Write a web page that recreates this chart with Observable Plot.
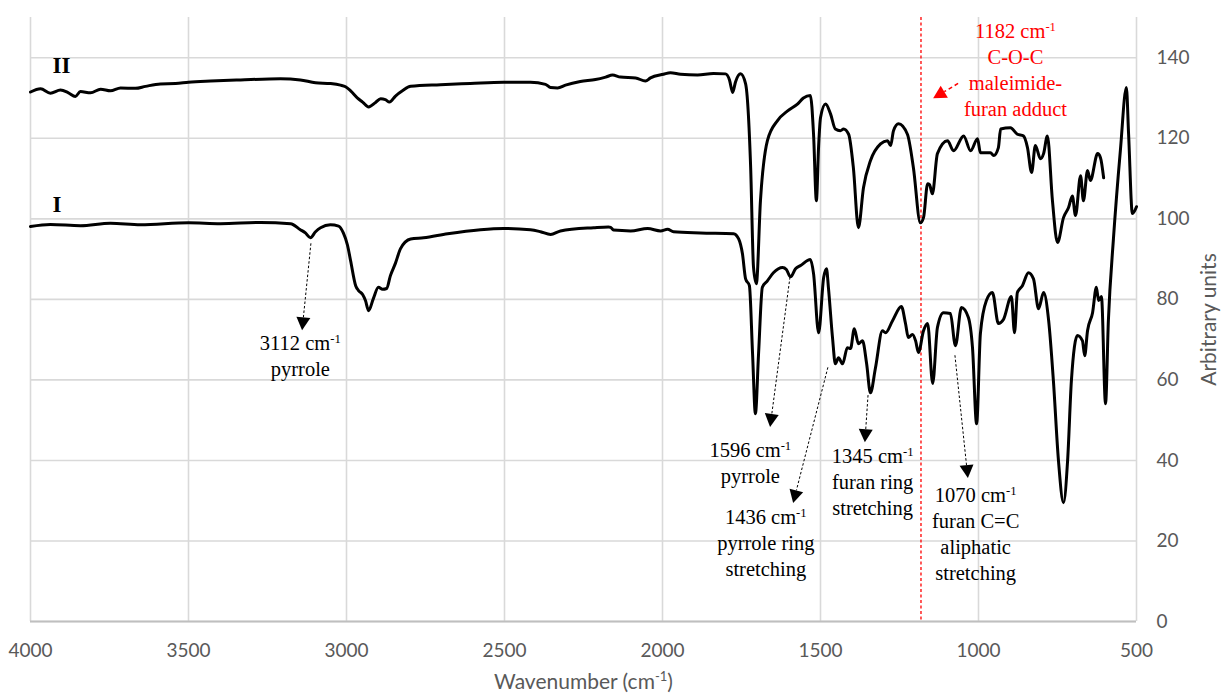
<!DOCTYPE html>
<html>
<head>
<meta charset="utf-8">
<script src="https://cdn.jsdelivr.net/npm/d3@7"></script>
<script src="https://cdn.jsdelivr.net/npm/@observablehq/plot@0.6"></script>
<style>
  html, body { margin: 0; padding: 0; background: #fff; }
  #chart { width: 1222px; height: 695px; }
</style>
</head>
<body>
<div id="chart"></div>
<script>
// ---- Data ----
const xTicks = [4000, 3500, 3000, 2500, 2000, 1500, 1000, 500];
const yTicks = [0, 20, 40, 60, 80, 100, 120, 140];

// Spectrum I (lower trace)
const wnI = [4000,3937,3842,3747,3652,3500,3399,3272,3177,3146,3130,3114,3098,3082,3051,3025,3010,2997,2987,2971,2962,2949,2940,2930,2915,2899,2886,2873,2861,2845,2829,2797,2756,2680,2576,2503,2418,2386,2354,2323,2218,2171,2164,2155,2101,2047,2006,1984,1965,1880,1775,1759,1747,1737,1725,1715,1706,1696,1684,1668,1649,1620,1608,1595,1579,1563,1532,1522,1506,1490,1481,1475,1462,1453,1443,1430,1415,1405,1393,1380,1367,1354,1342,1326,1304,1294,1272,1244,1231,1222,1209,1199,1190,1174,1161,1145,1130,1111,1089,1073,1054,1032,1019,1006,994,975,956,937,921,896,886,877,861,842,826,810,794,778,763,747,731,718,706,687,671,664,655,639,627,620,611,598,589,573,551,532,525,513,500];
const valI = [98.1,98.6,98.3,98.9,98.5,99.0,98.8,99.1,98.8,97.3,96.5,95.3,96.8,97.8,98.5,98.2,96.5,93.5,89.6,83.4,82.2,81.2,79.7,77.2,80.2,83.0,82.5,82.7,85.9,89.0,92.6,95.0,95.3,96.3,97.3,97.6,97.3,96.8,96.1,97.0,97.8,98.0,97.9,97.2,97.0,97.6,97.0,97.4,96.8,96.5,96.3,95.0,91.3,85.1,83.4,66.5,51.6,66.5,83.0,84.6,86.6,87.9,87.4,85.6,87.6,88.4,89.9,86.4,71.7,85.4,87.6,83.0,70.5,64.0,65.5,64.0,68.0,67.8,72.7,69.0,69.7,64.0,56.8,63.0,72.2,71.7,74.7,78.2,74.0,70.5,71.3,69.7,66.8,72.2,74.0,59.1,73.0,76.7,76.5,68.5,78.0,75.5,68.0,49.1,71.5,79.7,81.7,74.0,75.0,80.7,71.7,81.7,83.4,86.6,85.1,77.7,81.7,74.7,59.8,40.0,29.5,40.0,59.8,71.0,69.7,66.0,72.2,76.7,83.0,79.7,80.7,54.1,74.7,95.0,117.0,132.6,121.0,101.3,103.0];

// Spectrum II (upper trace)
const wnII = [4000,3968,3937,3905,3880,3858,3842,3810,3778,3747,3715,3668,3636,3589,3541,3500,3430,3335,3209,3146,3098,3051,3019,3003,2987,2965,2949,2930,2908,2892,2877,2864,2845,2823,2797,2703,2608,2503,2418,2370,2354,2332,2307,2260,2212,2180,2158,2133,2085,2054,2038,1997,1975,1943,1889,1839,1801,1788,1778,1769,1753,1737,1721,1712,1703,1690,1668,1636,1604,1573,1554,1532,1522,1513,1506,1500,1484,1468,1453,1437,1427,1411,1396,1380,1364,1342,1310,1288,1278,1269,1253,1225,1206,1184,1174,1161,1155,1146,1130,1098,1079,1047,1025,1003,994,962,952,937,930,899,877,858,845,832,820,804,794,782,766,750,731,715,703,693,677,668,655,646,623,614,604];
const valII = [131.5,132.3,131.2,132.0,131.3,130.4,131.6,131.3,132.2,131.8,132.5,132.4,132.9,133.5,133.6,133.9,134.2,134.5,134.8,134.5,133.8,133.6,133.2,132.8,131.8,130.0,129.0,127.8,128.9,129.8,129.6,129.0,130.5,131.8,132.9,133.3,133.6,133.9,133.9,133.4,132.6,132.5,133.2,134.1,134.6,135.2,135.7,135.2,135.0,134.2,135.0,135.9,136.3,135.9,135.7,136.1,136.0,134.5,131.4,134.0,136.0,133.5,112.7,88.0,83.9,104.5,119.4,124.4,126.8,128.5,130.0,130.6,121.0,104.5,118.0,125.1,128.5,126.0,122.3,121.9,122.3,121.0,112.7,97.8,107.7,114.4,118.6,119.4,118.2,121.9,123.6,121.0,112.7,99.0,100.3,108.7,108.5,106.2,116.2,119.4,116.9,120.6,116.9,119.9,116.4,116.4,115.7,117.7,122.3,122.6,121.0,120.6,117.7,111.5,118.2,114.9,116.2,120.6,104.5,94.1,100.3,102.8,105.7,100.8,110.7,104.5,112.0,109.5,116.2,115.2,110.2];

// Trace labels
const traceNames = ["I", "II"];
const traceLabelWn = [3930, 3930];
const traceLabelVal = [103.6, 138.1];

// Black peak annotations
const noteText = ["3112 cm⁻¹\npyrrole", "1596 cm⁻¹\npyrrole", "1436 cm⁻¹\npyrrole ring\nstretching", "1345 cm⁻¹\nfuran ring\nstretching", "1070 cm⁻¹\nfuran C=C\naliphatic\nstretching"];
const noteWn = [3146, 1722, 1673, 1335, 1009];
const noteVal = [72.0, 45.4, 28.8, 43.9, 34.3];
const arrowFromWn = [3111, 1595, 1475, 1348, 1073];
const arrowFromVal = [93.8, 85.4, 63.0, 56.1, 66.0];
const arrowToWn = [3139, 1658, 1585, 1358, 1032];
const arrowToVal = [72.2, 48.2, 29.3, 44.4, 35.5];

// Red adduct annotation
const adductWn = 1182;
const adductText = "1182 cm⁻¹\nC-O-C\nmaleimide-\nfuran adduct";
const adductTextWn = 883;
const adductTextVal = 149.6;
const adductArrowFrom = [1063, 133.5];
const adductArrowTo = [1142, 129.8];

// ---- Tables ----
const specI = wnI.map((w, i) => ({wn: w, v: valI[i]}));
const specII = wnII.map((w, i) => ({wn: w, v: valII[i]}));
const labels = traceNames.map((t, i) => ({t, wn: traceLabelWn[i], v: traceLabelVal[i]}));
const notes = noteText.map((t, i) => ({t, wn: noteWn[i], v: noteVal[i]}));
const arrows = noteText.map((t, i) => ({x1: arrowFromWn[i], y1: arrowFromVal[i], x2: arrowToWn[i], y2: arrowToVal[i], color: "#000", dash: "2.5,2", width: 1}));
arrows.push({x1: adductArrowFrom[0], y1: adductArrowFrom[1], x2: adductArrowTo[0], y2: adductArrowTo[1], color: "#ff0000", dash: "4,3", width: 1.5});

const serif = "'Liberation Serif', 'Times New Roman', serif";
const gray = "#595959";

function arrowMark(index, scales) {
  const g = d3.create("svg:g");
  for (const a of arrows) {
    const x1 = scales.x(a.x1), y1 = scales.y(a.y1), x2 = scales.x(a.x2), y2 = scales.y(a.y2);
    const dx = x2 - x1, dy = y2 - y1, len = Math.hypot(dx, dy);
    const ux = dx / len, uy = dy / len;
    const h = 13, w = 7;
    const bx = x2 - ux * h, by = y2 - uy * h;
    g.append("line")
      .attr("x1", x1).attr("y1", y1).attr("x2", bx).attr("y2", by)
      .attr("stroke", a.color).attr("stroke-width", a.width).attr("stroke-dasharray", a.dash);
    g.append("path")
      .attr("d", `M${x2},${y2}L${bx - uy * w},${by + ux * w}L${bx + uy * w},${by - ux * w}Z`)
      .attr("fill", a.color);
  }
  return g.node();
}

const chart = Plot.plot({
  width: 1222,
  height: 695,
  marginLeft: 30,
  marginRight: 86,
  marginTop: 17,
  marginBottom: 74,
  style: {fontFamily: "Lato, sans-serif", fontSize: "19px", color: gray, background: "#fff", overflow: "visible"},
  x: {domain: [4000, 500]},
  y: {domain: [0, 150]},
  marks: [
    Plot.gridX(xTicks, {stroke: "#d9d9d9", strokeOpacity: 1, strokeWidth: 1.6}),
    Plot.gridY(yTicks, {stroke: "#d9d9d9", strokeOpacity: 1, strokeWidth: 1.6}),
    Plot.ruleY([0], {stroke: "#bfbfbf", strokeWidth: 2}),
    Plot.axisX({ticks: xTicks, tickSize: 0, tickPadding: 22, tickFormat: d => String(d), label: null, fill: gray}),
    Plot.axisY({anchor: "right", ticks: yTicks, tickSize: 0, tickPadding: 20, label: null, fill: gray}),
    Plot.text(["Wavenumber (cm⁻¹)"], {frameAnchor: "bottom", dy: 61, text: d => d, fill: gray, fontSize: 21, lineAnchor: "middle", textAnchor: "middle"}),
    Plot.text(["Arbitrary units"], {frameAnchor: "right", dx: 73, rotate: -90, text: d => d, fill: gray, fontSize: 21, textAnchor: "middle", lineAnchor: "middle"}),
    Plot.ruleX([adductWn], {stroke: "#ff0000", strokeWidth: 1.3, strokeDasharray: "3,2.5"}),
    Plot.line(specII, {x: "wn", y: "v", stroke: "#000", strokeWidth: 3, curve: "monotone-x"}),
    Plot.line(specI, {x: "wn", y: "v", stroke: "#000", strokeWidth: 3, curve: "monotone-x"}),
    Plot.text(labels, {x: "wn", y: "v", text: "t", textAnchor: "start", fontFamily: serif, fontWeight: "bold", fontSize: 23, fill: "#000", lineAnchor: "middle"}),
    Plot.text(notes, {x: "wn", y: "v", text: "t", fontFamily: serif, fontSize: 20.5, fill: "#000", lineAnchor: "top", lineHeight: 1.27}),
    Plot.text([adductText], {x: () => adductTextWn, y: () => adductTextVal, text: d => d, fontFamily: serif, fontSize: 20.5, fill: "#ff0000", lineAnchor: "top", lineHeight: 1.27}),
    arrowMark
  ]
});

// render "⁻¹" as a true superscript "-1"
(function superscripts(root) {
  const walker = document.createTreeWalker(root, NodeFilter.SHOW_TEXT);
  const nodes = [];
  while (walker.nextNode()) if (walker.currentNode.nodeValue.includes("⁻¹")) nodes.push(walker.currentNode);
  for (const n of nodes) {
    const parts = n.nodeValue.split("⁻¹");
    const parent = n.parentNode;
    parts.forEach((p, i) => {
      if (p) parent.insertBefore(document.createTextNode(p), n);
      if (i < parts.length - 1) {
        const s = document.createElementNS("http://www.w3.org/2000/svg", "tspan");
        s.setAttribute("baseline-shift", "super");
        s.setAttribute("font-size", "62%");
        s.textContent = "-1";
        parent.insertBefore(s, n);
      }
    });
    parent.removeChild(n);
  }
})(chart);

document.getElementById("chart").appendChild(chart);
</script>
</body>
</html>
